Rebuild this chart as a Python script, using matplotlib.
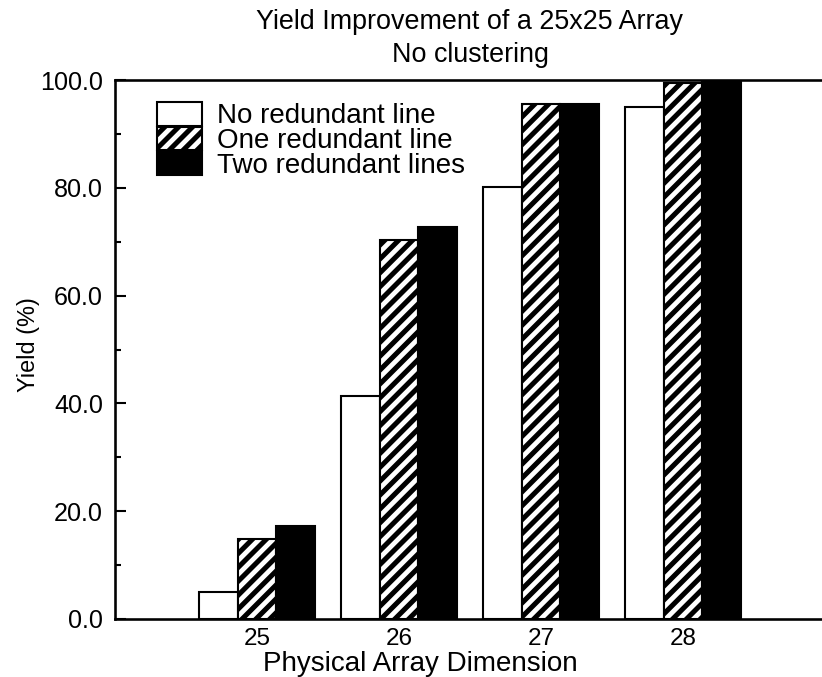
import numpy as np
import matplotlib.pyplot as plt

# =====================================================
# Data
# =====================================================

dimensions = [25, 26, 27, 28]

series_labels = [
    "No redundant line",
    "One redundant line",
    "Two redundant lines",
]

yield_none = [5.0, 41.3, 80.1, 95.0]
yield_one = [14.9, 70.4, 95.5, 99.4]
yield_two = [17.3, 72.7, 95.5, 100.0]

y_ticks = [0, 20, 40, 60, 80, 100]
y_minor = [10, 30, 50, 70, 90]

# =====================================================
# Style
# =====================================================

plt.rcParams["font.family"] = ["Liberation Sans", "DejaVu Sans"]
plt.rcParams["hatch.linewidth"] = 2.9

DPI = 125
W, H = 822, 677

fig = plt.figure(figsize=(W / DPI, H / DPI), dpi=DPI)

ax = fig.add_axes([
    115 / W,
    1 - 619 / H,
    (825 - 115) / W,
    (619 - 80) / H,
])

# =====================================================
# Bars
# =====================================================

x = np.array(dimensions, dtype=float)
width = 0.27

ax.bar(x - width, yield_none, width,
       facecolor="white", edgecolor="black", linewidth=1.2,
       label=series_labels[0])

ax.bar(x, yield_one, width,
       facecolor="white", edgecolor="black", linewidth=1.2,
       hatch="///", label=series_labels[1])

ax.bar(x + width, yield_two, width,
       facecolor="black", edgecolor="black", linewidth=1.2,
       label=series_labels[2])

# =====================================================
# Axes
# =====================================================

ax.set_xlim(24, 29)
ax.set_ylim(0, 100)

ax.set_xticks(dimensions)
ax.set_xticklabels([str(d) for d in dimensions], fontsize=14)

ax.set_yticks(y_ticks)
ax.set_yticklabels([f"{v:.1f}" for v in y_ticks], fontsize=14.5)
ax.set_yticks(y_minor, minor=True)

ax.tick_params(axis="y", which="major", direction="in", length=6.5, width=1.2, pad=7)
ax.tick_params(axis="y", which="minor", direction="in", length=3.5, width=1.2)
ax.tick_params(axis="x", length=0, pad=5)

for side in ["left", "top", "bottom"]:
    ax.spines[side].set_linewidth(1.5)
ax.spines["right"].set_visible(False)

# =====================================================
# Texts
# =====================================================

fig.text(470 / W, 1 - 22 / H, "Yield Improvement of a 25x25 Array",
         ha="center", va="center", fontsize=15.5)
fig.text(470 / W, 1 - 55 / H, "No clustering",
         ha="center", va="center", fontsize=15.5)

fig.text(420 / W, 1 - 664 / H, "Physical Array Dimension",
         ha="center", va="center", fontsize=16)
fig.text(28 / W, 1 - 345 / H, "Yield (%)",
         ha="center", va="center", rotation=90, fontsize=13.5)

# =====================================================
# Legend
# =====================================================

ax.legend(
    loc="upper left",
    bbox_to_anchor=(157 / W, 1 - 102 / H),
    bbox_transform=fig.transFigure,
    frameon=False,
    fontsize=16,
    handlelength=1.62,
    handleheight=0.93,
    labelspacing=-0.1,
    handletextpad=0.54,
    borderpad=0,
    borderaxespad=0,
)

plt.savefig("out.png", dpi=DPI)
